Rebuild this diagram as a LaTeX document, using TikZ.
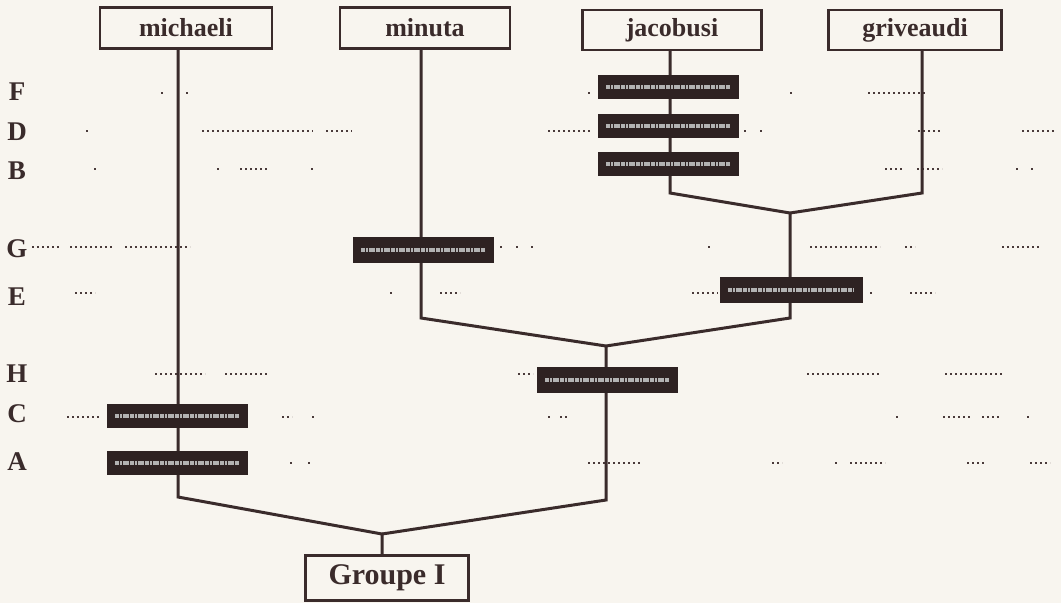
\documentclass[tikz,border=0pt]{standalone}
\usepackage{fontspec}
\setmainfont{Liberation Serif}
\begin{document}
\begin{tikzpicture}[x=1pt,y=-1pt]
\definecolor{bg}{HTML}{F8F5EF}
\definecolor{linec}{HTML}{3A2B2B}
\definecolor{barc}{HTML}{2E2222}
\definecolor{dotc}{HTML}{4A3A3A}
\tikzset{
  topbox/.style={draw=linec, line width=2.2pt, fill=bg, inner sep=0pt,
    font=\fontsize{26}{28}\selectfont\bfseries, text=linec},
  rowlabel/.style={font=\fontsize{27}{29}\selectfont\bfseries, text=linec, inner sep=0pt},
  branch/.style={draw=linec, line width=3pt, line join=miter},
  darkbar/.style={fill=barc, draw=none, minimum width=141pt, minimum height=24pt, inner sep=0pt},
  scribble/.style={draw=gray!60, line width=3.5pt, dash pattern=on 4pt off 1pt on 2pt off 1pt on 6pt off 1pt},
  dots/.style={draw=dotc, line width=1.8pt, dash pattern=on 2pt off 3pt}
}
\fill[bg] (0,0) rectangle (1061,603);
\useasboundingbox (0,0) rectangle (1061,603);

% top boxes
\node[topbox, minimum width=172pt, minimum height=41pt] (michaeli) at (186,28) {michaeli};
\node[topbox, minimum width=170pt, minimum height=41pt] (minuta) at (425,28) {minuta};
\node[topbox, minimum width=179pt, minimum height=40pt] (jacobusi) at (672,30) {jacobusi};
\node[topbox, minimum width=173pt, minimum height=40pt] (griveaudi) at (915,30) {griveaudi};
\node[topbox, minimum width=163pt, minimum height=45pt, font=\fontsize{30}{32}\selectfont\bfseries] (groupe) at (387,578) {Groupe I};

% row labels
\node[rowlabel] (lF) at (17,92) {F};
\node[rowlabel] (lD) at (17,132) {D};
\node[rowlabel] (lB) at (17,171) {B};
\node[rowlabel] (lG) at (17,249) {G};
\node[rowlabel] (lE) at (17,297) {E};
\node[rowlabel] (lH) at (17,374) {H};
\node[rowlabel] (lC) at (17,414) {C};
\node[rowlabel] (lA) at (17,462) {A};

% dotted fragments
\foreach \y/\a/\b in {
  93/161/164, 93/186/190, 93/588/591, 93/790/793, 93/868/925,
  131/86/89, 131/202/313, 131/326/352, 131/548/592, 131/744/747, 131/760/763, 131/918/942, 131/1022/1055,
  169/94/97, 169/217/220, 169/240/267, 169/311/314, 169/885/902, 169/917/942, 169/1016/1019, 169/1031/1034,
  247/32/60, 247/70/112, 247/125/190, 247/500/503, 247/516/519, 247/531/534, 247/708/711, 247/810/880, 247/905/915, 247/1002/1040,
  293/75/95, 293/390/393, 293/440/460, 293/692/718, 293/870/873, 293/910/935,
  374/155/205, 374/225/267, 374/518/533, 374/807/880, 374/945/1003,
  417/67/100, 417/282/292, 417/312/315, 417/548/551, 417/560/570, 417/896/899, 417/943/970, 417/982/1000, 417/1027/1030,
  463/290/293, 463/308/311, 463/588/640, 463/772/782, 463/835/838, 463/850/885, 463/967/985, 463/1030/1050}
  \draw[dots] (\a,\y) -- (\b,\y);

% merge coordinates
\coordinate (jb) at (670,193);
\coordinate (gb) at (922,193);
\coordinate (jg) at (790,213);
\coordinate (jgb) at (790,318);
\coordinate (mb) at (421,318);
\coordinate (mid) at (606,346);
\coordinate (midb) at (606,500);
\coordinate (mib) at (178,497);
\coordinate (root) at (382,534);

% branches
\draw[branch] (michaeli.south -| mib) -- (mib) -- (root) -- (groupe.north -| root);
\draw[branch] (minuta.south -| mb) -- (mb) -- (mid);
\draw[branch] (jacobusi.south -| jb) -- (jb) -- (jg);
\draw[branch] (griveaudi.south -| gb) -- (gb) -- (jg);
\draw[branch] (jg) -- (jgb) -- (mid);
\draw[branch] (mid) -- (midb) -- (root);

% dark bars
\node[darkbar] (barF) at (668,87) {};
\node[darkbar] (barD) at (668,126) {};
\node[darkbar] (barB) at (668,164) {};
\node[darkbar, minimum height=26pt] (barG) at (423,250) {};
\node[darkbar, minimum width=143pt, minimum height=26pt] (barE) at (791,290) {};
\node[darkbar, minimum height=26pt] (barH) at (607,380) {};
\node[darkbar, minimum height=24pt] (barC) at (177,416) {};
\node[darkbar, minimum height=24pt] (barA) at (177,463) {};
\foreach \b in {barF,barD,barB,barG,barE,barH,barC,barA}
  \draw[scribble] ([xshift=9pt]\b.west) -- ([xshift=-9pt]\b.east);
\end{tikzpicture}
\end{document}
